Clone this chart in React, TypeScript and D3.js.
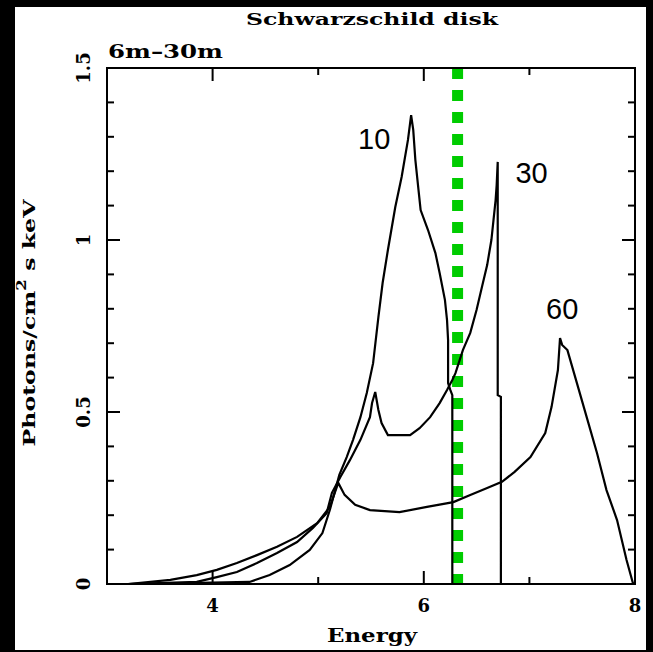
import React from "react";
import * as d3 from "d3";

// chart values
const energy10 = [3.2, 3.88, 4.35, 4.54, 4.73, 4.92, 5.04, 5.11, 5.2, 5.27, 5.33, 5.4, 5.46, 5.52, 5.57, 5.61, 5.66, 5.73, 5.79, 5.85, 5.88, 5.9, 5.92, 5.95, 5.97, 6.04, 6.11, 6.15, 6.2, 6.22, 6.23, 6.23, 6.25, 6.27, 6.27];
const flux10 = [0, 0.003, 0.006, 0.026, 0.055, 0.099, 0.148, 0.215, 0.317, 0.369, 0.419, 0.485, 0.555, 0.642, 0.776, 0.875, 0.971, 1.096, 1.183, 1.291, 1.363, 1.32, 1.233, 1.145, 1.087, 1.029, 0.962, 0.904, 0.826, 0.767, 0.709, 0.584, 0.565, 0.549, 0];

const energy30 = [3.2, 3.85, 4.04, 4.23, 4.42, 4.61, 4.8, 4.95, 5.08, 5.13, 5.21, 5.3, 5.4, 5.49, 5.51, 5.54, 5.57, 5.6, 5.66, 5.87, 5.96, 6.06, 6.15, 6.22, 6.27, 6.3, 6.37, 6.44, 6.5, 6.55, 6.6, 6.64, 6.66, 6.68, 6.69, 6.7, 6.7, 6.73, 6.73];
const flux30 = [0, 0.006, 0.02, 0.035, 0.061, 0.09, 0.122, 0.163, 0.206, 0.265, 0.311, 0.36, 0.419, 0.485, 0.526, 0.558, 0.506, 0.468, 0.433, 0.433, 0.453, 0.485, 0.526, 0.564, 0.593, 0.613, 0.68, 0.73, 0.797, 0.863, 0.927, 1.0, 1.058, 1.116, 1.16, 1.227, 0.549, 0.544, 0];

const energy60 = [3.2, 3.6, 3.85, 4.04, 4.23, 4.42, 4.61, 4.8, 4.99, 5.11, 5.19, 5.25, 5.35, 5.49, 5.77, 6.03, 6.28, 6.44, 6.6, 6.74, 6.86, 7.01, 7.15, 7.21, 7.27, 7.29, 7.31, 7.36, 7.45, 7.55, 7.64, 7.73, 7.83, 7.92, 7.98, 8.0];
const flux60 = [0, 0.012, 0.026, 0.041, 0.061, 0.084, 0.108, 0.137, 0.177, 0.224, 0.294, 0.259, 0.23, 0.215, 0.209, 0.224, 0.238, 0.259, 0.279, 0.297, 0.326, 0.369, 0.439, 0.515, 0.622, 0.715, 0.695, 0.68, 0.584, 0.477, 0.381, 0.273, 0.186, 0.07, 0.003, 0];

const curveNames = ["10", "30", "60"];
const labelEnergy = [5.53, 7.02, 7.31];
const labelFlux = [1.265, 1.166, 0.77];

const lineEnergy = 6.32; // green dotted marker
const xTickLabels = ["4", "6", "8"];
const yTickLabels = ["0", "0.5", "1", "1.5"];

export default function App() {
  const width = 653;
  const height = 652;
  const left = 107, right = 635, top = 68, bottom = 584;

  const x = d3.scaleLinear().domain([3, 8]).range([left, right]);
  const y = d3.scaleLinear().domain([0, 1.5]).range([bottom, top]);

  const line = d3
    .line<[number, number]>()
    .x((d) => x(d[0]))
    .y((d) => y(d[1]));

  const series = [
    d3.zip(energy10, flux10),
    d3.zip(energy30, flux30),
    d3.zip(energy60, flux60),
  ] as [number, number][][];

  const xMinor = x.ticks(5);
  const yMinor = y.ticks(15);
  const labelFont = "'DejaVu Serif', serif";

  return (
    <svg
      width={width}
      height={height}
      style={{ position: "absolute", left: 0, top: 0, display: "block" }}
    >
      <rect width={width} height={height} fill="#000" />
      <rect x={15} y={7} width={631} height={643} fill="#fff" />

      <text
        x={372}
        y={25}
        textAnchor="middle"
        fontFamily={labelFont}
        fontWeight="bold"
        fontSize={17}
        textLength={252}
        lengthAdjust="spacingAndGlyphs"
      >
        Schwarzschild disk
      </text>
      <text
        x={108}
        y={58}
        fontFamily={labelFont}
        fontWeight="bold"
        fontSize={18}
        textLength={115}
        lengthAdjust="spacingAndGlyphs"
      >
        6m–30m
      </text>

      {/* green marker */}
      <line
        x1={x(lineEnergy)}
        x2={x(lineEnergy)}
        y1={top}
        y2={bottom}
        stroke="#00cc00"
        strokeWidth={11}
        strokeDasharray="11 11"
      />

      {series.map((pts, i) => (
        <path
          key={i}
          d={line(pts) || ""}
          fill="none"
          stroke="#000"
          strokeWidth={2.2}
          strokeLinejoin="miter"
        />
      ))}

      {curveNames.map((n, i) => (
        <text
          key={n}
          x={x(labelEnergy[i])}
          y={y(labelFlux[i])}
          textAnchor="middle"
          fontFamily="'Liberation Sans', Arial, sans-serif"
          fontSize={29}
        >
          {n}
        </text>
      ))}

      {/* frame and ticks */}
      <rect
        x={left}
        y={top}
        width={right - left}
        height={bottom - top}
        fill="none"
        stroke="#000"
        strokeWidth={2}
      />
      {xMinor.map((t) => {
        const len = t % 2 === 0 ? 13 : 7;
        return (
          <g key={"x" + t}>
            <line x1={x(t)} x2={x(t)} y1={bottom} y2={bottom - len} stroke="#000" strokeWidth={2} />
            <line x1={x(t)} x2={x(t)} y1={top} y2={top + len} stroke="#000" strokeWidth={2} />
          </g>
        );
      })}
      {yMinor.map((t) => {
        const major = Math.abs(t * 2 - Math.round(t * 2)) < 1e-6;
        const len = major ? 13 : 7;
        return (
          <g key={"y" + t}>
            <line x1={left} x2={left + len} y1={y(t)} y2={y(t)} stroke="#000" strokeWidth={2} />
            <line x1={right} x2={right - len} y1={y(t)} y2={y(t)} stroke="#000" strokeWidth={2} />
          </g>
        );
      })}

      {xTickLabels.map((l) => (
        <text
          key={l}
          x={x(+l)}
          y={612}
          textAnchor="middle"
          fontFamily={labelFont}
          fontWeight="bold"
          fontSize={18}
        >
          {l}
        </text>
      ))}
      {yTickLabels.map((l) => (
        <text
          key={l}
          transform={`translate(90, ${y(+l)}) rotate(-90)`}
          textAnchor="middle"
          fontFamily={labelFont}
          fontWeight="bold"
          fontSize={18}
        >
          {l}
        </text>
      ))}

      <text
        x={372}
        y={642}
        textAnchor="middle"
        fontFamily={labelFont}
        fontWeight="bold"
        fontSize={18}
        textLength={90}
        lengthAdjust="spacingAndGlyphs"
      >
        Energy
      </text>
      <text
        transform="translate(35, 323) rotate(-90)"
        textAnchor="middle"
        fontFamily={labelFont}
        fontWeight="bold"
        fontSize={17}
        textLength={247}
        lengthAdjust="spacingAndGlyphs"
      >
        Photons/cm
        <tspan dy={-9} fontSize={12}>
          2
        </tspan>
        <tspan dy={9}> s keV</tspan>
      </text>
    </svg>
  );
}
